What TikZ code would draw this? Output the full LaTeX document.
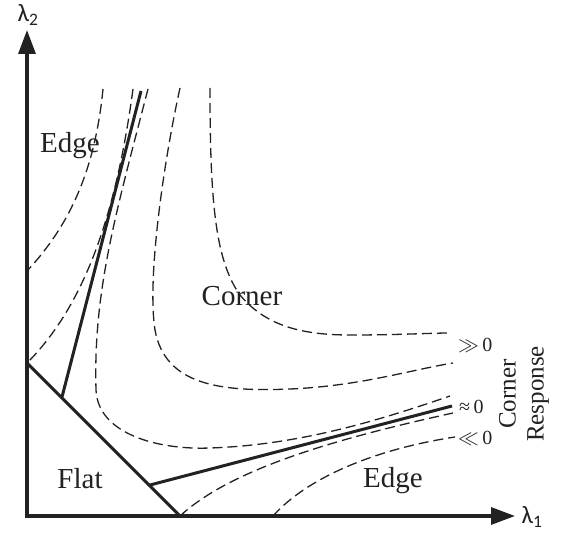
\documentclass[tikz,border=0pt]{standalone}
\usepackage{fontspec}
\setmainfont{Liberation Serif}
\newfontfamily\lamfont{Carlito}
\usetikzlibrary{arrows.meta}
\definecolor{mydark}{RGB}{34,34,34}
\tikzset{
  axis/.style={line width=3.2pt, color=mydark,
    {Triangle[length=24pt,width=17pt]}-{Triangle[length=24pt,width=17pt]}},
  border/.style={line width=3pt, color=mydark},
  contour/.style={line width=1.3pt, color=mydark, dash pattern=on 10pt off 5pt},
  region/.style={font=\fontsize{29}{32}\selectfont, anchor=base, color=mydark},
  level/.style={font=\fontsize{20}{22}\selectfont, anchor=west, inner sep=0pt, color=mydark},
  lam/.style={font=\lamfont\fontsize{25}{27}\selectfont, color=mydark}
}
\begin{document}
\begin{tikzpicture}[x=1pt, y=-1pt]
  \useasboundingbox (0,0) rectangle (568,535);

  % Axes
  \coordinate (O) at (27,516);
  \coordinate (ytop) at (27,30);
  \coordinate (xend) at (515,516);
  \draw[axis] (ytop) -- (O) -- (xend);
  \node[lam] (l2) at (28,15) {λ\textsubscript{2}};
  \node[lam] (l1) at (532,517) {λ\textsubscript{1}};

  % Region borders
  \coordinate (fa) at (27,363);
  \coordinate (fb) at (180,516);
  \coordinate (va) at (62,397);
  \coordinate (vb) at (141,91);
  \coordinate (ha) at (150,485);
  \coordinate (hb) at (452,406);
  \draw[border] (fa) -- (fb);
  \draw[border] (va) -- (vb);
  \draw[border] (ha) -- (hb);

  % Contours of the corner response
  \draw[contour] (103,89) .. controls (95,170) and (70,225) .. (fa|-0,271);
  \draw[contour] (133,89) .. controls (118,200) and (90,300) .. (fa);
  \draw[contour] (148,89) .. controls (117,209) and (93,290) .. (96,390)
    .. controls (98,435) and (160,450) .. (210,448)
    .. controls (300,445) and (380,420) .. (450,396);
  \draw[contour] (fb) .. controls (230,470) and (330,440) .. (453,413);
  \draw[contour] (273,516) .. controls (305,480) and (370,450) .. (455,437);
  \draw[contour] (180,88) .. controls (163,165) and (147,280) .. (155,330)
    .. controls (165,385) and (220,392) .. (290,389)
    .. controls (360,386) and (410,370) .. (453,363);
  \draw[contour] (210,88) .. controls (210,200) and (215,260) .. (240,295)
    .. controls (265,325) and (300,335) .. (350,335)
    .. controls (400,335) and (430,333) .. (450,333);

  % Region labels
  \node[region] (edgeup) at (70,152) {Edge};
  \node[region] (corner) at (242,305) {Corner};
  \node[region] (flat) at (80,488) {Flat};
  \node[region] (edgedown) at (393,487) {Edge};

  % Response levels
  \node[level] (gg) at (458,345) {$\gg$\,0};
  \node[level] (ap) at (459,407) {≈\,0};
  \node[level] (ll) at (458,438) {$\ll$\,0};
  \node[rotate=90, align=center, color=mydark,
    font=\fontsize{25}{28}\selectfont] (resp) at (524,394) {Corner\\Response};
\end{tikzpicture}
\end{document}
